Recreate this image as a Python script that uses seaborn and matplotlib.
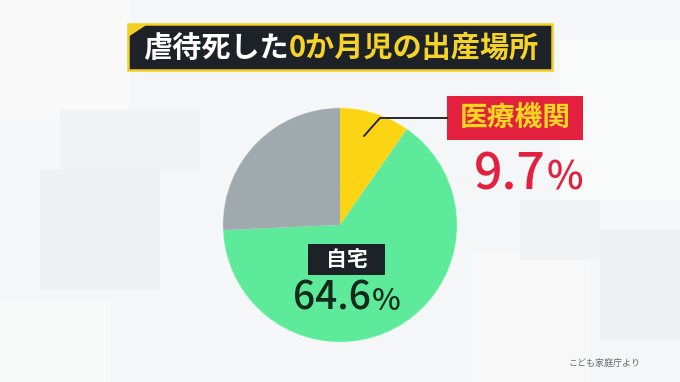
import matplotlib
matplotlib.use("Agg")
import matplotlib.pyplot as plt
import seaborn as sns
from matplotlib.patches import Rectangle, Polygon, Circle
from matplotlib.lines import Line2D

# ---- data ----
title_white = "虐待死した"
title_yellow = "0か月児の出産場所"
categories = ["医療機関", "自宅", "その他"]
shares = [9.7, 64.6, 25.7]
source = "こども家庭庁より"

sns.set_theme(style="white")
plt.rcParams['font.family'] = ['Noto Sans CJK JP', 'DejaVu Sans']

W, H = 680, 382
fig = plt.figure(figsize=(6.8, 3.82), dpi=100)
fig.patch.set_facecolor('#f5f6f7')


def fx(x):
    return x / W


def fy(y):
    return 1 - y / H


def rect(x0, y0, x1, y1, **kw):
    p = Rectangle((fx(x0), fy(y1)), (x1 - x0) / W, (y1 - y0) / H,
                  transform=fig.transFigure, **kw)
    fig.patches.append(p)
    return p


# faint background blocks
for (x0, y0, x1, y1, c) in [
    (0, 0, 130, 120, '#f9f9fa'), (40, 170, 160, 290, '#eff0f2'),
    (560, 40, 680, 200, '#f9fafa'), (600, 230, 680, 340, '#eeeff1'),
    (0, 300, 110, 382, '#f8f9f9'), (470, 250, 590, 382, '#f8f8f9'),
    (60, 110, 200, 170, '#f1f2f3'), (520, 200, 600, 260, '#f1f2f4'),
]:
    rect(x0, y0, x1, y1, facecolor=c, edgecolor='none', zorder=0)

# ---- pie ----
colors = ['#fbd514', '#5deb9b', '#a0aaae']
ax = fig.add_axes([220 / W, (H - 345) / H, 240 / W, 240 / H])
ax.set_zorder(2)
ax.patch.set_alpha(0)
ax.pie(shares, colors=colors, startangle=90, counterclock=False,
       radius=1, wedgeprops=dict(linewidth=0, edgecolor='none'))
ax.add_patch(Circle((0, 0), 1.0, fill=False, edgecolor='#ffffff',
                    linewidth=1.2, alpha=0.7))
ax.set_xlim(-1.02, 1.02)
ax.set_ylim(-1.02, 1.02)
ax.set_aspect('equal')
ax.axis('off')

# ---- title ----
rect(128, 24, 552, 70, facecolor='#1d2128', edgecolor='#f2cf22', linewidth=1.8, zorder=3)
fig.patches.append(Polygon([(fx(128), fy(24)), (fx(148), fy(24)), (fx(128), fy(37))],
                           closed=True, transform=fig.transFigure,
                           facecolor='#f2cf22', edgecolor='none', zorder=4))
renderer = fig.canvas.get_renderer()
t1 = fig.text(fx(143), fy(48), title_white, color='white', fontsize=21,
              fontweight='bold', ha='left', va='center', zorder=5)
bb = t1.get_window_extent(renderer)
fig.text(bb.x1 / W, fy(48), title_yellow, color='#f5d327', fontsize=21,
         fontweight='bold', ha='left', va='center', zorder=5)

# ---- 医療機関 label ----
rect(447, 96, 583, 140, facecolor='#e3213e', edgecolor='none', zorder=3)
fig.text(fx(515), fy(118), categories[0], color='#f8d81e', fontsize=20,
         fontweight='bold', ha='center', va='center', zorder=5)
fig.lines.append(Line2D([fx(364), fx(380), fx(447)], [fy(136), fy(118), fy(118)],
                        transform=fig.transFigure, color='#23272c', linewidth=1.4, zorder=6))
num1 = f"{shares[0]:.1f}"
fig.text(fx(546), fy(189), num1, color='#e3213e', fontsize=36,
         fontweight='medium', ha='right', va='baseline', zorder=5)
fig.text(fx(547), fy(189), "%", color='#e3213e', fontsize=28,
         fontweight='medium', ha='left', va='baseline', zorder=5)

# ---- 自宅 label ----
rect(308, 244, 385, 275, facecolor='#1d2128', edgecolor='none', zorder=6)
fig.text(fx(346.5), fy(259.5), categories[1], color='white', fontsize=15,
         fontweight='bold', ha='center', va='center', zorder=7)
num2 = f"{shares[1]:.1f}"
fig.text(fx(371), fy(310), num2, color='#142a1c', fontsize=28,
         fontweight='medium', ha='right', va='baseline', zorder=7)
fig.text(fx(372), fy(310), "%", color='#142a1c', fontsize=22,
         fontweight='medium', ha='left', va='baseline', zorder=7)

# ---- source ----
fig.text(fx(640), fy(363), source, color='#666a6e', fontsize=6.5,
         ha='right', va='center', zorder=5)

fig.savefig('out.png', dpi=100, facecolor=fig.get_facecolor())
